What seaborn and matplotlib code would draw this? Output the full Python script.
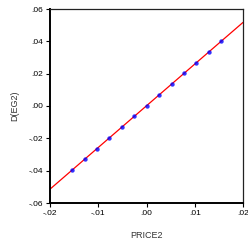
import numpy as np
import pandas as pd
import matplotlib
matplotlib.use("Agg")
import matplotlib.pyplot as plt
import seaborn as sns
from matplotlib.ticker import FuncFormatter

# data
price2 = [-0.0154, -0.0128, -0.0103, -0.0078, -0.0051, -0.0026, 0.0001,
          0.0026, 0.0053, 0.0078, 0.0103, 0.0130, 0.0154]
deg2 = [-0.0396, -0.0328, -0.0266, -0.0198, -0.0130, -0.0062, 0.0000,
        0.0068, 0.0136, 0.0204, 0.0266, 0.0334, 0.0402]
x_ticks = [-0.02, -0.01, 0.00, 0.01, 0.02]
y_ticks = [-0.06, -0.04, -0.02, 0.00, 0.02, 0.04, 0.06]

df = pd.DataFrame({"PRICE2": price2, "D(EG2)": deg2})

sns.set_style("white")
plt.rcParams['font.family'] = ['Liberation Sans', 'DejaVu Sans']

fig = plt.figure(figsize=(2.48, 2.48), dpi=100)
ax = fig.add_axes([50/248, 45/248, 193/248, 194/248])
ax.set_xlim(-0.02, 0.02)
ax.set_ylim(-0.06, 0.06)

sns.regplot(x="PRICE2", y="D(EG2)", data=df, ci=None, truncate=False,
            scatter_kws={"color": "blue", "s": 10, "marker": "o", "linewidths": 0, "zorder": 3},
            line_kws={"color": "red", "lw": 0.9, "zorder": 2}, ax=ax)

ax.set_xlim(-0.02, 0.02)
ax.set_ylim(-0.06, 0.06)
ax.set_xticks(x_ticks)
ax.set_yticks(y_ticks)
fmt = FuncFormatter(lambda v, p: ("-" if v < -1e-9 else "") + ("%.2f" % abs(v))[1:])
ax.xaxis.set_major_formatter(fmt)
ax.yaxis.set_major_formatter(fmt)
ax.tick_params(axis='both', direction='out', length=3, width=0.8, labelsize=6,
               colors='black', pad=2, bottom=True, left=True, top=False, right=False)

for s in ['left', 'bottom']:
    ax.spines[s].set_linewidth(1.4)
    ax.spines[s].set_color('black')
for s in ['top', 'right']:
    ax.spines[s].set_linewidth(0.9)
    ax.spines[s].set_color('#222222')

ax.set_xlabel("PRICE2", fontsize=6.5, color='#333333', labelpad=10)
ax.set_ylabel("D(EG2)", fontsize=6.5, color='#333333', labelpad=7)

fig.savefig("out.png", dpi=100)
